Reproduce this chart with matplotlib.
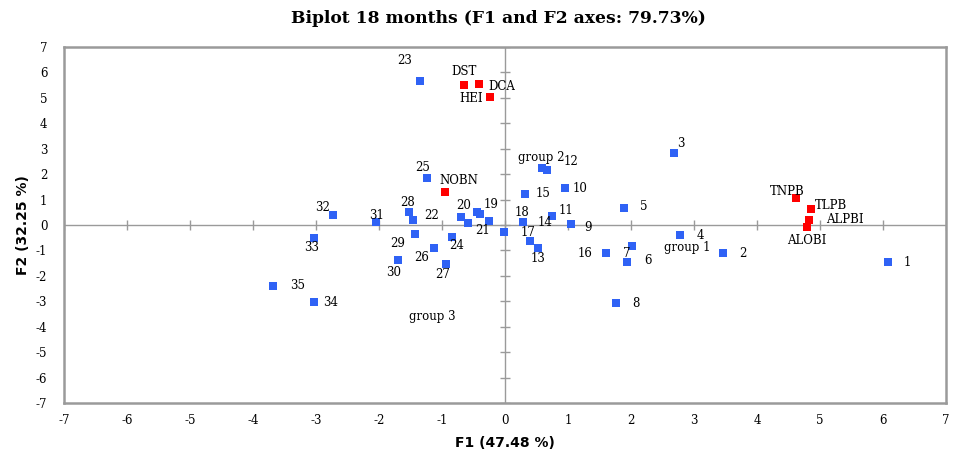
import matplotlib.pyplot as plt

plt.rcParams["axes.unicode_minus"] = False

# Observations (scores on F1/F2)
obs_names = [str(i) for i in range(1, 36)] + ["", "", "", ""]
obs_f1 = [6.08, 3.46, 2.68, 2.78, 1.89, 1.93, 2.02, 1.76, 1.04, 0.95,
          0.75, 0.67, 0.52, 0.74, 0.32, 1.60, 0.40, 0.29, -0.40, -0.70,
          -0.26, -1.46, -1.35, -0.84, -1.24, -1.12, -0.93, -1.53, -1.43, -1.70,
          -2.04, -2.73, -3.03, -3.03, -3.68,
          0.58, -0.45, -0.58, -0.02]
obs_f2 = [-1.47, -1.11, 2.83, -0.41, 0.67, -1.45, -0.83, -3.07, 0.03, 1.45,
          0.37, 2.16, -0.90, 0.34, 1.22, -1.10, -0.61, 0.13, 0.42, 0.30,
          0.15, 0.18, 5.66, -0.48, 1.84, -0.90, -1.55, 0.50, -0.35, -1.38,
          0.12, 0.38, -0.51, -3.03, -2.39,
          2.23, 0.52, 0.07, -0.29]

# Variables
var_names = ["DST", "DCA", "HEI", "NOBN", "TNPB", "TLPB", "ALPBI", "ALOBI"]
var_f1 = [-0.65, -0.41, -0.24, -0.96, 4.62, 4.86, 4.83, 4.79]
var_f2 = [5.52, 5.54, 5.02, 1.31, 1.05, 0.63, 0.20, -0.09]

group_names = ["group 1", "group 2", "group 3"]

# label offsets in pixels (dx, dy)
obs_offsets = [(19, 0), (20, 0), (7, 10), (20, 0), (20, 1), (21, 1), (-6, -7),
               (20, 0), (17, -3), (15, 0), (14, 5), (24, 9), (0, -11), (-7, -6),
               (18, 0), (-21, 0), (-2, 8), (-1, 9), (11, 10), (3, 12), (-6, -9),
               (19, 5), (-15, 21), (5, -8), (-4, 11), (-13, -10), (-4, -10),
               (-1, 10), (-17, -10), (-4, -12), (0, 6), (-10, 8), (-2, -10),
               (17, 0), (24, 0), (0, 0), (0, 0), (0, 0), (0, 0)]
var_offsets = [(0, 13), (23, -2), (-19, -1), (14, 11), (-9, 7), (20, 4),
               (36, 0), (0, -13)]
group_pos = [(2.90, -0.87), (0.57, 2.67), (-1.16, -3.58)]

serif = "DejaVu Serif"
blue = "#2f62f5"
red = "#ff0000"
grey = "#9a9a9a"

fig = plt.figure(figsize=(9.55, 4.57), dpi=100)
ax = fig.add_axes([0.067, 0.118, 0.9236, 0.7792])
ax.set_xlim(-7, 7)
ax.set_ylim(-7, 7)

# zero lines with small cross ticks
ax.axhline(0, color=grey, lw=1, zorder=1)
ax.axvline(0, color=grey, lw=1, zorder=1)
ticks = list(range(-7, 8))
ax.plot(ticks, [0] * len(ticks), ls="none", marker="|", ms=7, mew=1, color=grey, zorder=1)
ax.plot([0] * len(ticks), ticks, ls="none", marker="_", ms=7, mew=1, color=grey, zorder=1)

ax.scatter(obs_f1, obs_f2, marker="s", s=34, color=blue, lw=0, zorder=3)
ax.scatter(var_f1, var_f2, marker="s", s=34, color=red, lw=0, zorder=3)

for name, x, y, off in zip(obs_names, obs_f1, obs_f2, obs_offsets):
    if name:
        ax.annotate(name, (x, y), xytext=off, textcoords="offset pixels",
                    ha="center", va="center", fontsize=8.5, family=serif, zorder=4)
for name, x, y, off in zip(var_names, var_f1, var_f2, var_offsets):
    ax.annotate(name, (x, y), xytext=off, textcoords="offset pixels",
                ha="center", va="center", fontsize=8.5, family=serif, zorder=4)
for name, (x, y) in zip(group_names, group_pos):
    ax.text(x, y, name, ha="center", va="center", fontsize=8.5, family=serif, zorder=4)

ax.set_xticks(ticks)
ax.set_yticks(ticks)
ax.tick_params(length=0, labelsize=8.5)
ax.tick_params(axis="x", pad=8)
ax.tick_params(axis="y", pad=12)
for lab in ax.get_xticklabels() + ax.get_yticklabels():
    lab.set_family(serif)
for sp in ax.spines.values():
    sp.set_color(grey)
    sp.set_linewidth(1.8)

ax.set_xlabel("F1 (47.48 %)", fontsize=10, fontweight="bold", labelpad=6)
ax.set_ylabel("F2 (32.25 %)", fontsize=10, fontweight="bold", labelpad=4)
fig.suptitle("Biplot 18 months (F1 and F2 axes: 79.73%)", x=0.522, y=0.978,
             fontsize=12.3, fontweight="bold", family=serif, va="top")

fig.savefig("out.png", dpi=100)
